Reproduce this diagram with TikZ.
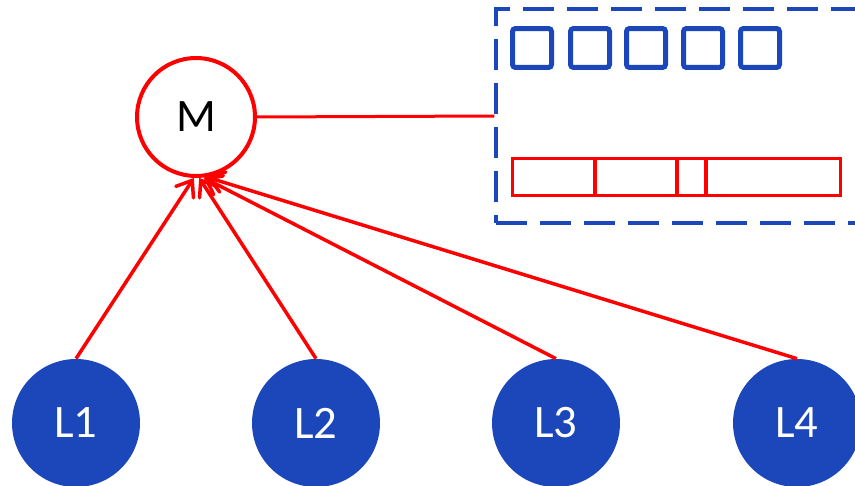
\documentclass[tikz,border=0pt]{standalone}
\usepackage{fontspec}
\setmainfont{Carlito}
\usetikzlibrary{arrows.meta}
\definecolor{dblue}{RGB}{27,71,186}
\definecolor{rred}{RGB}{255,0,0}
\begin{document}
\begin{tikzpicture}[x=0.02cm,y=-0.02cm,
  mnode/.style={circle,draw=rred,line width=0.08cm,fill=white,minimum size=2.36cm,inner sep=0pt,font=\fontsize{26.5}{30}\selectfont},
  lnode/.style={circle,fill=dblue,draw=none,minimum size=2.56cm,inner sep=0pt,text=white,font=\fontsize{26.5}{30}\selectfont},
  dbox/.style={draw=dblue,line width=0.065cm,dash pattern=on 0.62cm off 0.26cm,minimum width=7.68cm,minimum height=4.28cm,inner sep=0pt},
  sq/.style={draw=dblue,line width=0.1cm,rounded corners=0.06cm,minimum size=0.78cm,inner sep=0pt},
  seg/.style={draw=rred,line width=0.066cm},
  conn/.style={draw=rred,line width=0.06cm},
  arr/.style={draw=rred,line width=0.07cm,-{Straight Barb[length=0.28cm,width=0.42cm,line cap=round]}}
]
\clip (0,0) rectangle (855,486);
\node[dbox] (box) at (688,116) {};
\node[sq] (s1) at (532,48) {};
\node[sq] (s2) at (590,48) {};
\node[sq] (s3) at (646,48) {};
\node[sq] (s4) at (703,48) {};
\node[sq] (s5) at (760,48) {};
\draw[seg] (512.5,158.5) rectangle (595,195.5);
\draw[seg] (595,158.5) rectangle (677,195.5);
\draw[seg] (677,158.5) rectangle (706,195.5);
\draw[seg] (706,158.5) rectangle (840.5,195.5);
\node[mnode] (M) at (196,117) {M};
\node[lnode] (L1) at (76,423) {L1};
\node[lnode] (L2) at (316,423) {L2};
\node[lnode] (L3) at (556,423) {L3};
\node[lnode] (L4) at (797,423) {L4};
\draw[conn] (M.east) -- (box.west);
\draw[arr] (L1.north) -- (M.-92);
\draw[arr] (L2.north) -- (M.-87);
\draw[arr] (L3.north) -- (M.-83);
\draw[arr] (L4.north) -- (M.-80);
\end{tikzpicture}
\end{document}
